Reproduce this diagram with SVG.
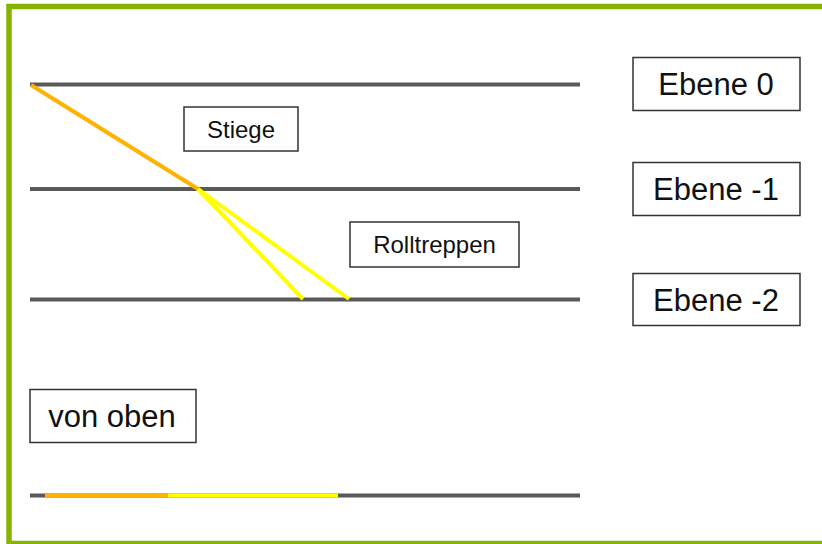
<svg xmlns="http://www.w3.org/2000/svg" width="822" height="544" viewBox="0 0 822 544">
<style>
.lvl{stroke:#595959;stroke-width:4;fill:none}
.box{fill:#fff;stroke:#333;stroke-width:1.5}
.t{font-family:"Liberation Sans",Arial,sans-serif;fill:#111;text-anchor:middle}
.or{stroke:#ffb300;stroke-width:4;fill:none}
.ye{stroke:#ffff00;stroke-width:4;fill:none}
</style>
<rect x="0" y="0" width="822" height="544" fill="#fff"/>
<rect x="9" y="6.5" width="820" height="537" fill="none" stroke="#86b300" stroke-width="5.5"/>
<g id="connectors">
<line class="lvl" x1="30" y1="84.5" x2="580" y2="84.5"/>
<line class="lvl" x1="30" y1="189" x2="580" y2="189"/>
<line class="lvl" x1="30" y1="299.5" x2="580" y2="299.5"/>
<line class="lvl" x1="30" y1="495.5" x2="580" y2="495.5"/>
<line class="or" x1="45" y1="495.5" x2="168" y2="495.5"/>
<line class="ye" x1="168" y1="495.5" x2="338" y2="495.5"/>
<line class="or" x1="31" y1="85" x2="198" y2="189"/>
<line class="ye" x1="198" y1="189" x2="303" y2="299"/>
<line class="ye" x1="198" y1="189" x2="349" y2="299"/>
</g>
<g id="stiege"><rect class="box" x="184" y="107" width="114" height="44"/><text class="t" x="241" y="138" font-size="24">Stiege</text></g>
<g id="rolltreppen"><rect class="box" x="350" y="222" width="169" height="45"/><text class="t" x="434.5" y="252.5" font-size="24">Rolltreppen</text></g>
<g id="ebene0"><rect class="box" x="633" y="57.5" width="167" height="53"/><text class="t" x="716" y="94.5" font-size="31">Ebene 0</text></g>
<g id="ebene-1"><rect class="box" x="633" y="162.5" width="167" height="53"/><text class="t" x="716" y="199.5" font-size="31">Ebene -1</text></g>
<g id="ebene-2"><rect class="box" x="633" y="273.5" width="167" height="52"/><text class="t" x="716" y="310.5" font-size="31">Ebene -2</text></g>
<g id="vonoben"><rect class="box" x="30" y="389.5" width="166" height="53"/><text class="t" x="112" y="426.5" font-size="31">von oben</text></g>
</svg>
